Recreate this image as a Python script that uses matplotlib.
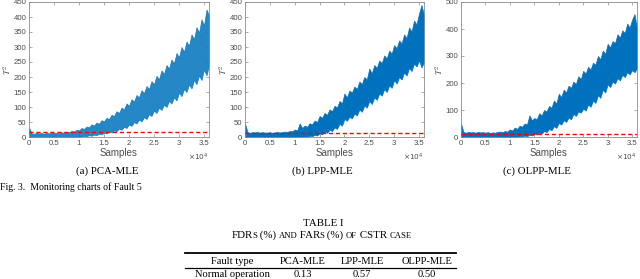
import numpy as np
import matplotlib
matplotlib.use("Agg")
import matplotlib.pyplot as plt
from matplotlib.lines import Line2D

plt.rcParams['mathtext.fontset'] = 'stix'

W, H = 640, 279

# ---- data (sample index in units of 1e4, step 0.05) ----
samples_k = np.round(np.arange(0, 3.601, 0.05), 2)

pca_upper = [32, 12, 11, 14, 12, 13, 11, 14, 12, 15, 13, 14, 12, 16, 14, 17, 16, 20, 18, 24,
             22, 30, 27, 35, 32, 42, 38, 48, 44, 56, 52, 64, 60, 74, 70, 86, 80, 98, 92, 112,
             104, 126, 118, 140, 132, 156, 146, 170, 160, 186, 176, 204, 192, 222, 210, 240, 228, 258, 246, 280,
             266, 300, 284, 318, 304, 342, 326, 366, 348, 392, 372, 425, 405]
pca_lower = [0, 0, 0, 0, 0, 0, 0, 0, 0, 0, 0, 0, 0, 0, 0, 0, 0, 0,
             1, 0, 2, 1, 4, 2, 6, 4, 8, 6, 11, 9, 14, 12, 18, 15, 22, 19, 28, 24, 34, 30,
             42, 37, 50, 45, 58, 52, 66, 60, 76, 70, 88, 80, 98, 90, 108, 100, 120, 112, 132, 122,
             148, 136, 160, 150, 175, 162, 190, 176, 205, 190, 225, 205, 240]
lpp_upper = [45, 16, 14, 16, 15, 17, 14, 16, 15, 14, 16, 14, 15, 17, 15, 16, 18, 17, 20, 19,
             25, 22, 45, 30, 38, 34, 46, 42, 55, 50, 70, 64, 80, 74, 92, 86, 104, 98, 120, 112,
             145, 132, 155, 148, 168, 160, 185, 176, 200, 192, 228, 212, 240, 230, 255, 246, 272, 262, 288, 278,
             306, 296, 322, 312, 342, 330, 365, 352, 388, 375, 412, 440, 405]
lpp_lower = [0, 0, 0, 0, 0, 0, 0, 0, 0, 0, 0, 0, 0, 0, 0, 0, 0, 0, 0, 0, 0, 0,
             1, 0, 2, 1, 4, 3, 7, 5, 12, 9, 18, 14, 24, 20, 32, 27, 44, 38,
             60, 54, 68, 62, 78, 72, 92, 84, 105, 98, 120, 110, 132, 124, 145, 138, 160, 150, 172, 164,
             190, 178, 200, 192, 215, 205, 230, 220, 245, 235, 255, 232, 250]
olpp_upper = [50, 18, 16, 19, 17, 18, 16, 19, 17, 18, 16, 18, 15, 17, 16, 19, 20, 18, 22, 20,
              28, 24, 35, 30, 42, 38, 50, 46, 80, 62, 70, 66, 88, 80, 100, 94, 115, 108, 135, 124,
              160, 148, 175, 165, 190, 182, 205, 196, 225, 214, 245, 235, 260, 250, 275, 268, 300, 288, 320, 308,
              345, 332, 355, 348, 380, 368, 395, 385, 420, 405, 435, 455, 400]
olpp_lower = [0, 0, 0, 0, 0, 0, 0, 0, 0, 0, 0, 0, 0, 0, 0, 0, 0, 0, 0, 0, 0, 0,
              1, 0, 3, 2, 5, 3, 8, 6, 11, 9, 16, 13, 22, 18, 30, 25, 40, 34,
              52, 46, 62, 56, 72, 66, 85, 78, 95, 90, 105, 98, 120, 112, 135, 126, 155, 145, 175, 165,
              195, 185, 205, 198, 218, 210, 230, 222, 240, 232, 248, 240, 255]

control_limits = [17, 13, 12]
y_limits = [450, 450, 500]
y_steps = [50, 50, 100]
captions = ["(a) PCA-MLE", "(b) LPP-MLE", "(c) OLPP-MLE"]
x_ticks = [0, 0.5, 1, 1.5, 2, 2.5, 3, 3.5]

table_header = ["Fault type", "PCA-MLE", "LPP-MLE", "OLPP-MLE"]
table_row = ["Normal operation", "0.13", "0.57", "0.50"]

# ---- figure ----
fig = plt.figure(figsize=(W / 100, H / 100), dpi=100)

axes_px = [(29, 209), (245, 424), (461, 637)]
top_px, bot_px = 2, 137
caption_x = [107, 322, 537]
blue = '#0072BD'
axis_col = '#8c8c8c'
tick_col = '#4d4d4d'
serif = ['Liberation Serif', 'DejaVu Serif']
sans = ['Liberation Sans', 'DejaVu Sans']

uppers = [pca_upper, lpp_upper, olpp_upper]
lowers = [pca_lower, lpp_lower, olpp_lower]


def fx(x):
    return x / W


def fy(y):
    return 1 - y / H


n = len(samples_k)
for i, (l, r) in enumerate(axes_px):
    ax = fig.add_axes([fx(l), fy(bot_px), (r - l) / W, (bot_px - top_px) / H])
    x = samples_k * 1e4
    up = np.asarray(uppers[i][:n], dtype=float)
    lo = np.asarray(lowers[i][:len(up)], dtype=float)
    up = up[:len(lo)]
    ax.fill_between(x[:len(up)], lo, up, color=blue, linewidth=0.5,
                    alpha=0.85 if i == 0 else 1.0, zorder=2)
    ax.axhline(control_limits[i], color='#ff0000', ls=(0, (3, 2)), lw=1.0, zorder=3)
    ax.set_xlim(0, 3.6e4)
    ax.set_ylim(0, y_limits[i])
    ax.set_xticks([t * 1e4 for t in x_ticks])
    ax.set_xticklabels([f"{t:g}" for t in x_ticks])
    ax.set_yticks(np.arange(0, y_limits[i] + 1, y_steps[i]))
    ax.tick_params(direction='in', length=2, width=0.5, colors=axis_col,
                   labelcolor=tick_col, labelsize=5.6, pad=1.8,
                   top=True, right=True)
    for lab in ax.get_xticklabels() + ax.get_yticklabels():
        lab.set_family(sans)
    for s in ax.spines.values():
        s.set_color(axis_col)
        s.set_linewidth(0.6)
    ax.set_xlabel("Samples", fontsize=7, color=tick_col, family=sans, labelpad=1)
    ax.set_ylabel(r"$T^2$", fontsize=6.5, color=tick_col, labelpad=0.5)
    ax.text(1.0, -0.11, r"$\times10^4$", transform=ax.transAxes, ha='right', va='top',
            fontsize=5.3, color=tick_col, math_fontfamily='dejavusans')
    fig.text(fx(caption_x[i]), fy(171), captions[i], ha='center', va='center',
             fontsize=7.8, family=serif)

fig.text(fx(0), fy(187), "Fig. 3.  Monitoring charts of Fault 5", ha='left', va='center',
         fontsize=7, family=serif)

# ---- table ----
fig.text(fx(323), fy(223), "TABLE I", ha='center', va='center', fontsize=7.8, family=serif)

pieces = [("FDR", 7.8), ("S", 6.2), (" (%) ", 7.8), ("AND", 6.2), (" FAR", 7.8), ("S", 6.2),
          (" (%) ", 7.8), ("OF", 6.2), (" CSTR ", 7.8), ("CASE", 6.2)]
renderer = fig.canvas.get_renderer()
texts = []
xcur = 0.0
for k, (s, size) in enumerate(pieces):
    t = fig.text(0, fy(238), s, ha='left', va='baseline', fontsize=size, family=serif)
    w = t.get_window_extent(renderer).width
    texts.append((t, xcur))
    nxt = pieces[k + 1][0] if k + 1 < len(pieces) else " "
    tight = (not s.endswith(' ')) and (not nxt.startswith(' '))
    xcur += w - (1.2 if tight else 0.0)
x0 = 322 - xcur / 2
for t, off in texts:
    t.set_x(fx(x0 + off))

fig.add_artist(Line2D([fx(185), fx(456)], [fy(253), fy(253)], color='black', lw=1.3))
fig.add_artist(Line2D([fx(185), fx(456)], [fy(268), fy(268)], color='black', lw=0.9))
col_x = [232, 303, 362, 427]
for cx, h, v in zip(col_x, table_header, table_row):
    fig.text(fx(cx), fy(261.5), h, ha='center', va='center', fontsize=7.6, family=serif)
    fig.text(fx(cx), fy(274.5), v, ha='center', va='center', fontsize=7.6, family=serif)

fig.savefig("out.png", dpi=100)
